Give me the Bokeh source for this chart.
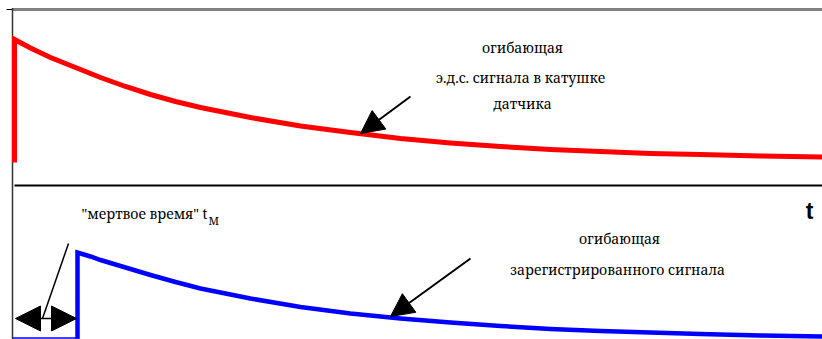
from bokeh.plotting import figure
from bokeh.models import Range1d, Arrow, NormalHead
from bokeh.core.properties import value
from bokeh.embed import file_html
from bokeh.resources import INLINE

# EMF envelope in the sensor coil (upper trace)
emf_t = [14, 14, 30, 50, 75, 100, 125, 150, 175, 200, 250, 300, 350, 400,
         450, 500, 550, 600, 650, 700, 760, 822]
emf_a = [177, 300, 291.5, 282, 272, 262, 253, 245, 238, 232, 222, 213.5, 207, 201,
         196.5, 193, 190, 188, 186, 185, 183.5, 182.5]

# Envelope of the recorded signal (lower trace), starts after the dead time
rec_t = [77, 77, 90, 100, 125, 150, 175, 200, 250, 300, 350, 400,
         450, 500, 550, 600, 650, 700, 760, 822]
rec_a = [0, 87, 83, 79.5, 72, 64.5, 57.5, 51, 41, 32.5, 26, 21,
         17, 13.5, 10.5, 8.5, 7, 5.5, 4, 3]

t_origin = 12
dead_time = 65          # t_M
t_end = 822
upper_top = 330
split_level = 154
rec_floor = 1.5

top_labels = ["огибающая", "э.д.с.  сигнала в катушке", "датчика"]
bottom_labels = ["огибающая", "зарегистрированного  сигнала"]
dead_label = "\"мертвое время\" t"
dead_sub = "М"
axis_label = "t"

W, H = 822, 339
p = figure(width=W, height=H, output_backend="svg", toolbar_location=None,
           x_range=Range1d(0, W), y_range=Range1d(0, H),
           x_axis_type=None, y_axis_type=None, min_border=0,
           outline_line_color=None, background_fill_color="white")
p.grid.visible = False

serif = value("Noto Serif")

# frame lines
p.line([t_origin, t_end], [upper_top, upper_top], line_color="#808080", line_width=3)
p.line([6, t_origin], [upper_top, upper_top], line_color="black", line_width=1.2)
p.line([t_origin, t_origin], [0, upper_top + 1.5], line_color="#333333", line_width=1.5)
p.line([t_origin + 2, t_end], [split_level, split_level], line_color="black", line_width=2)

# traces
p.line(emf_t, emf_a, line_color="#ff0000", line_width=5, line_join="miter")
p.line([t_origin, t_origin + dead_time], [rec_floor, rec_floor], line_color="#0000ff", line_width=1.5)
p.line(rec_t, rec_a, line_color="#0000ff", line_width=4.5, line_join="miter")

# pointer arrows
p.add_layout(Arrow(x_start=410, y_start=243, x_end=360, y_end=206,
                   line_width=2, line_color="black",
                   end=NormalHead(size=23, fill_color="black", line_color="black", line_width=1)))
p.add_layout(Arrow(x_start=470, y_start=81, x_end=390, y_end=23,
                   line_width=2, line_color="black",
                   end=NormalHead(size=23, fill_color="black", line_color="black", line_width=1)))

# dead-time span
p.add_layout(Arrow(x_start=t_origin + 3, y_start=21, x_end=t_origin + dead_time - 1, y_end=21,
                   line_width=1.5, line_color="black",
                   start=NormalHead(size=25, fill_color="black", line_color="black", line_width=1),
                   end=NormalHead(size=25, fill_color="black", line_color="black", line_width=1)))
p.line([42, 68], [21, 96], line_color="black", line_width=1.5)

# labels
p.text(x=[522, 522, 522], y=[292, 262, 236], text=top_labels,
       text_font=serif, text_font_size="14px", text_align="center",
       text_baseline="middle", text_color="black")
p.text(x=[619, 619], y=[101, 70], text=bottom_labels,
       text_font=serif, text_font_size="14px", text_align="center",
       text_baseline="middle", text_color="black")
p.text(x=[207], y=[126], text=[dead_label],
       text_font=serif, text_font_size="14px", text_align="right",
       text_baseline="middle", text_color="black")
p.text(x=[208], y=[119], text=[dead_sub],
       text_font=serif, text_font_size="11px", text_align="left",
       text_baseline="middle", text_color="black")
p.text(x=[809], y=[129], text=[axis_label],
       text_font=value("Liberation Sans"), text_font_size="23px", text_font_style="bold",
       text_align="center", text_baseline="middle", text_color="black")

open("out.html", "w").write(file_html(p, INLINE))
